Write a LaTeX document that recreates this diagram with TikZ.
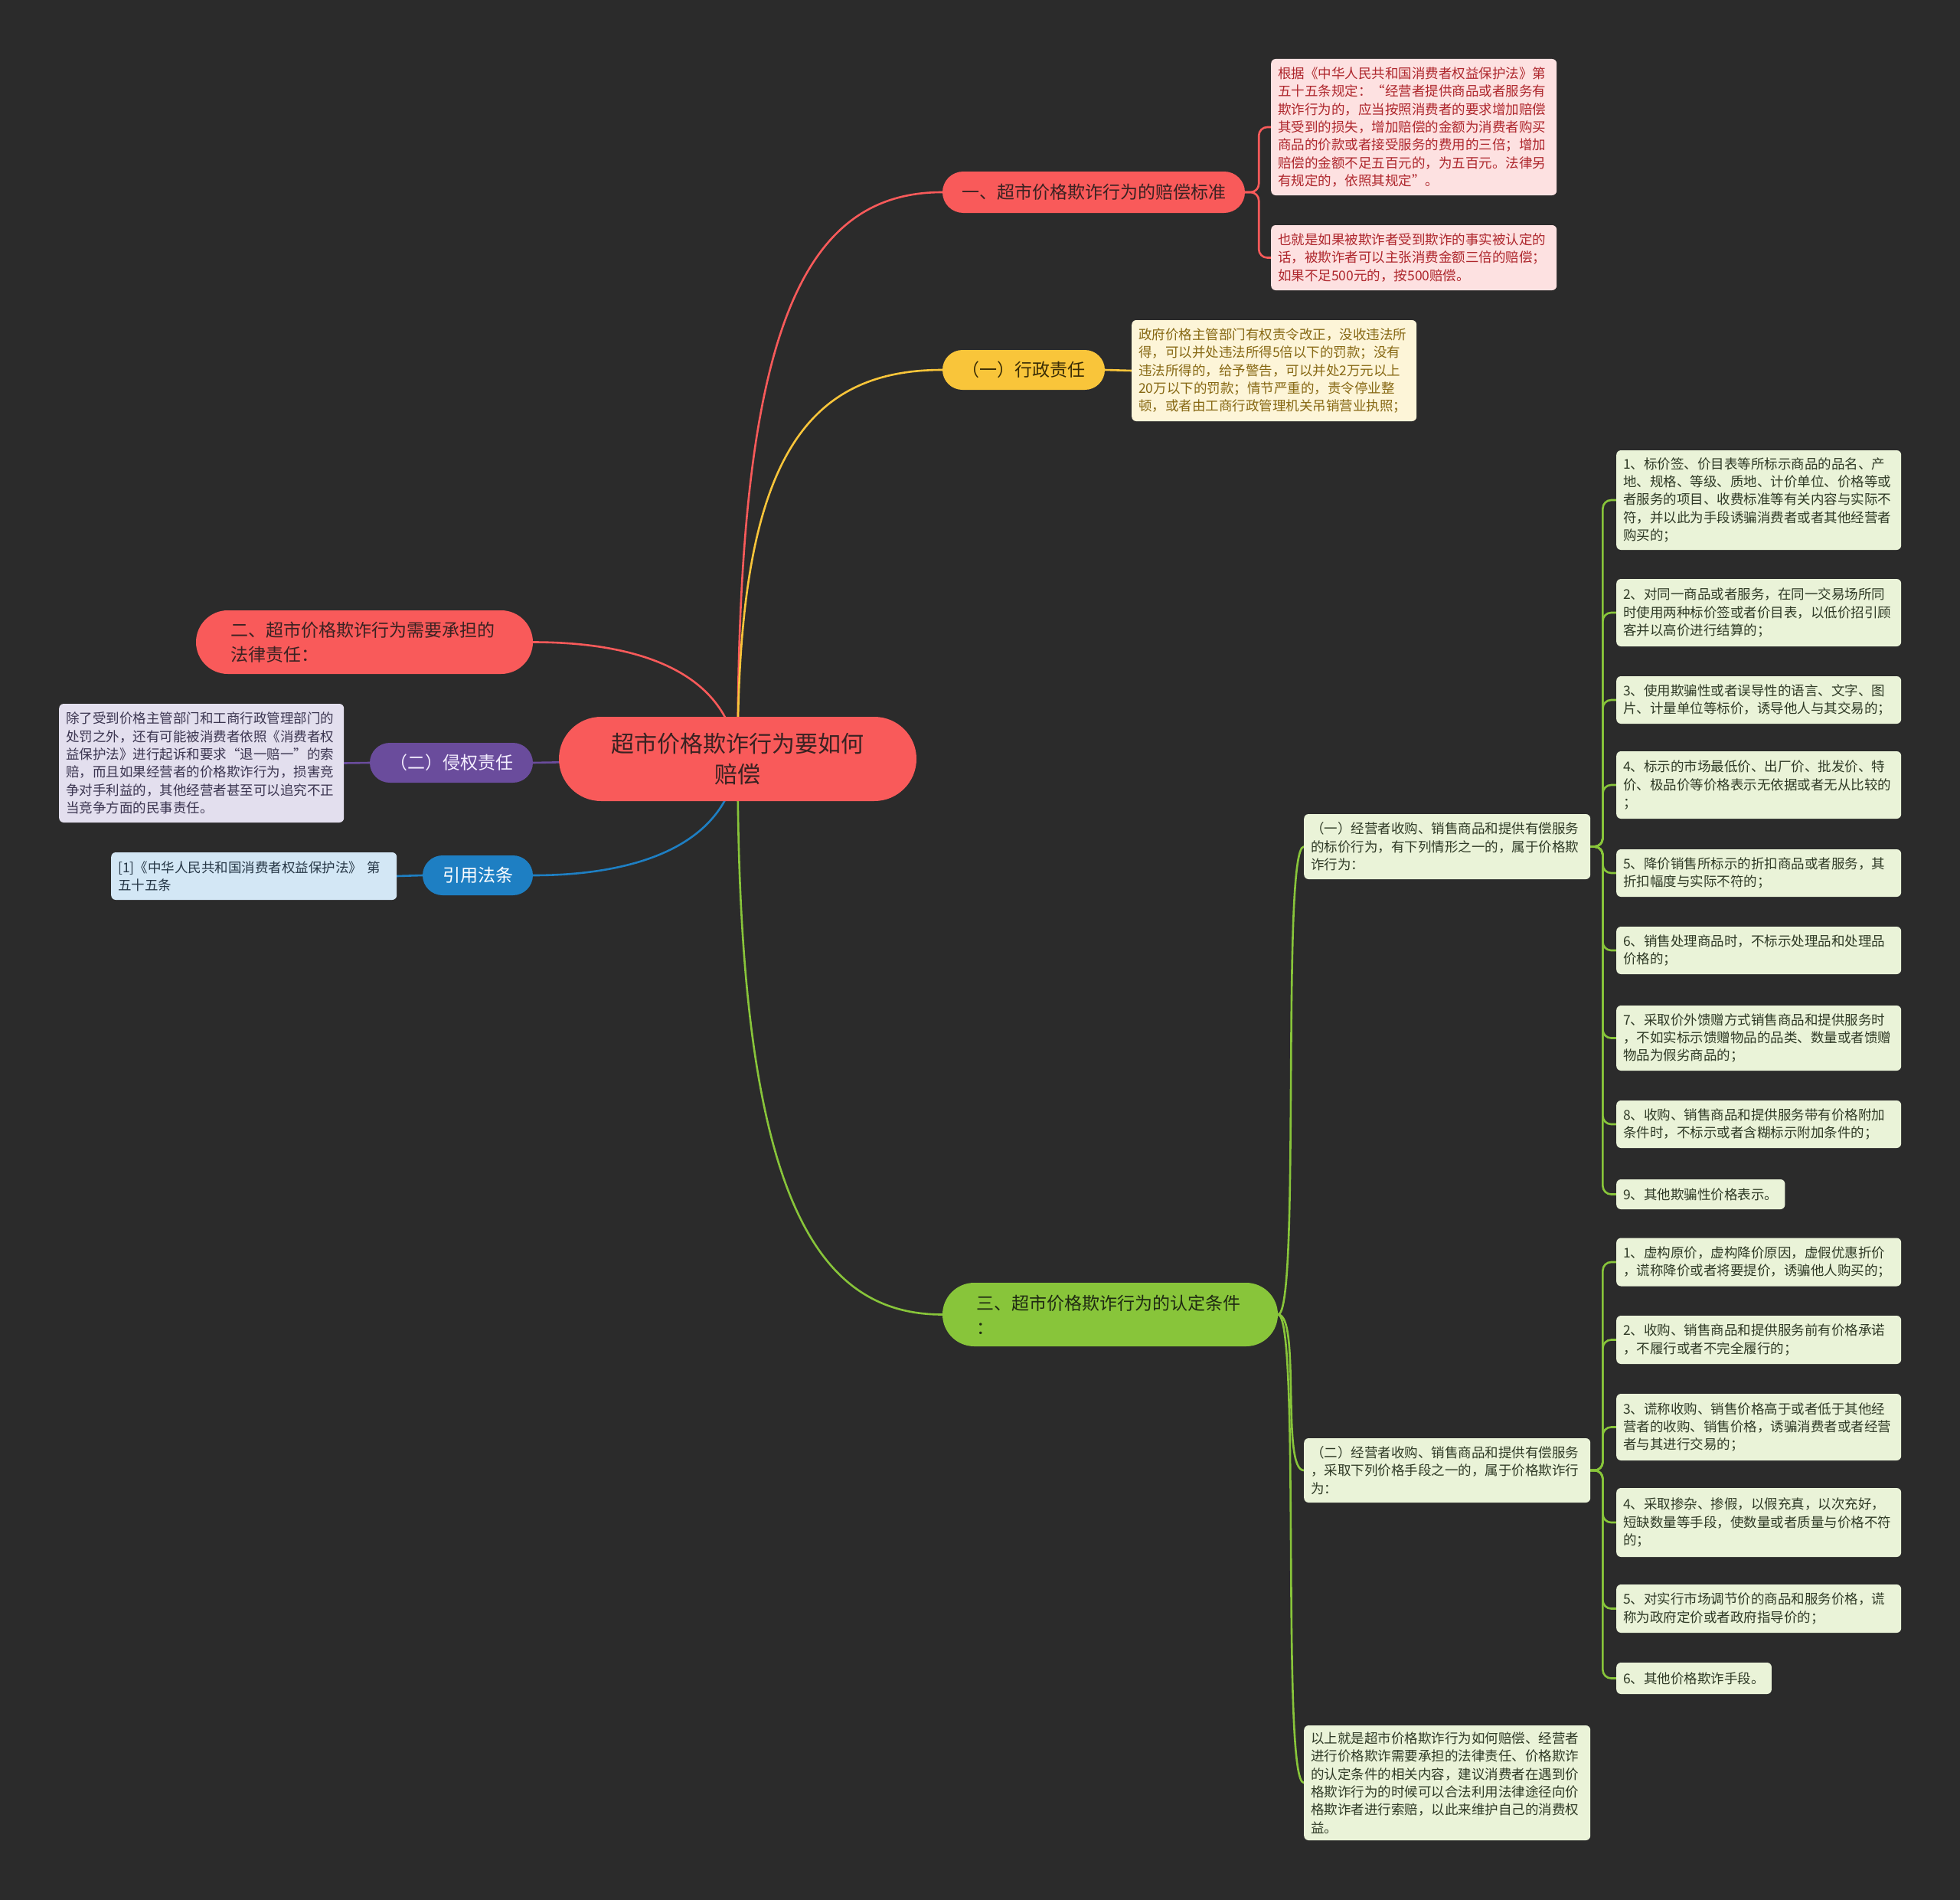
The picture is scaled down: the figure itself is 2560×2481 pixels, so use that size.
\documentclass[tikz,border=0pt]{standalone}
\usepackage{fontspec}
\newfontfamily\cjk{Noto Sans CJK SC}
\usetikzlibrary{backgrounds,calc}
\definecolor{bgc}{HTML}{2B2B2B}
\definecolor{cred}{HTML}{F95A5A}
\definecolor{credtxt}{HTML}{3A2222}
\definecolor{cpink}{HTML}{FDE1E1}
\definecolor{cpinktxt}{HTML}{AE262C}
\definecolor{cyel}{HTML}{F9C53A}
\definecolor{cyeltxt}{HTML}{3A2C05}
\definecolor{ccream}{HTML}{FDF5D8}
\definecolor{ccreamtxt}{HTML}{876813}
\definecolor{cpur}{HTML}{6A4C9C}
\definecolor{cpurtxt}{HTML}{F4EEFF}
\definecolor{clav}{HTML}{E3DFEE}
\definecolor{clavtxt}{HTML}{3B3550}
\definecolor{cblue}{HTML}{1E7FC3}
\definecolor{cbluetxt}{HTML}{FFFFFF}
\definecolor{clblue}{HTML}{D3E7F5}
\definecolor{clbluetxt}{HTML}{263746}
\definecolor{cgreen}{HTML}{88C53A}
\definecolor{cgreentxt}{HTML}{1F2A12}
\definecolor{clgreen}{HTML}{EAF3D8}
\definecolor{clgreentxt}{HTML}{2F3A26}
\tikzset{
  pill/.style={inner sep=0pt, font=\cjk\fontsize{23}{32}\selectfont, minimum height=52},
  box/.style={rounded corners=6, inner xsep=9, inner ysep=4, align=left, anchor=west,
    font=\cjk\fontsize{17.5}{23.3}\selectfont},
  rbox/.style={box, fill=cpink, text=cpinktxt, text width=355},
  ybox/.style={box, fill=ccream, text=ccreamtxt, text width=354},
  lbox/.style={box, fill=clav, text=clavtxt, text width=354},
  bbox/.style={box, fill=clblue, text=clbluetxt, text width=355},
  gbox/.style={box, fill=clgreen, text=clgreentxt, text width=354},
  gboxn/.style={box, fill=clgreen, text=clgreentxt},
  conn/.style={line width=2.6, line cap=round},
  elbow/.style={conn, rounded corners=11},
}
\begin{document}
\begin{tikzpicture}[x=1pt,y=-1pt]
\path[use as bounding box] (0,0) rectangle (2560,2481);

% central
\node[inner sep=0pt, fill=cred, text=credtxt, minimum width=467, minimum height=110,
  rounded corners=55, font=\cjk\fontsize{30}{40}\selectfont, align=center] (ctr) at (963.5,991)
  {超市价格欺诈行为要如何\\赔偿};

% branch 1
\node[pill, fill=cred, text=credtxt, minimum width=395, minimum height=54, rounded corners=27] (b1) at (1428.5,251)
  {一、超市价格欺诈行为的赔偿标准};
\node[rbox, minimum height=178] (p1) at (1660,166)
  {根据《中华人民共和国消费者权益保护法》第\\五十五条规定：“经营者提供商品或者服务有\\欺诈行为的，应当按照消费者的要求增加赔偿\\其受到的损失，增加赔偿的金额为消费者购买\\商品的价款或者接受服务的费用的三倍；增加\\赔偿的金额不足五百元的，为五百元。法律另\\有规定的，依照其规定”。};
\node[rbox, minimum height=85] (p2) at (1660,336.5)
  {也就是如果被欺诈者受到欺诈的事实被认定的\\话，被欺诈者可以主张消费金额三倍的赔偿；\\如果不足500元的，按500赔偿。};

% branch 2
\node[pill, fill=cyel, text=cyeltxt, minimum width=212, rounded corners=26] (b2) at (1337,483)
  {（一）行政责任};
\node[ybox, minimum height=132] (y1) at (1478,484)
  {政府价格主管部门有权责令改正，没收违法所\\得，可以并处违法所得5倍以下的罚款；没有\\违法所得的，给予警告，可以并处2万元以上\\20万以下的罚款；情节严重的，责令停业整\\顿，或者由工商行政管理机关吊销营业执照；};

% branch 3 (left)
\node[pill, fill=cred, text=credtxt, minimum width=440, minimum height=83, rounded corners=41.5,
  text width=350, align=left] (b3) at (476,838.5)
  {二、超市价格欺诈行为需要承担的\\法律责任：};

% branch 4 (left)
\node[pill, fill=cpur, text=cpurtxt, minimum width=213, rounded corners=26] (b4) at (589.5,996)
  {（二）侵权责任};
\node[lbox, minimum height=155] (l1) at (77,996.5)
  {除了受到价格主管部门和工商行政管理部门的\\处罚之外，还有可能被消费者依照《消费者权\\益保护法》进行起诉和要求“退一赔一”的索\\赔，而且如果经营者的价格欺诈行为，损害竞\\争对手利益的，其他经营者甚至可以追究不正\\当竞争方面的民事责任。};

% branch 5 (left)
\node[pill, fill=cblue, text=cbluetxt, minimum width=144, rounded corners=26] (b5) at (624,1143)
  {引用法条};
\node[bbox, minimum height=62] (q1) at (145,1144)
  {[1]《中华人民共和国消费者权益保护法》 第\\五十五条};

% branch 6
\node[pill, fill=cgreen, text=cgreentxt, minimum width=438, minimum height=83, rounded corners=41.5,
  text width=350, align=left] (b6) at (1450,1716.5)
  {三、超市价格欺诈行为的认定条件\\：};

\node[gbox, text width=356, minimum height=85] (ga) at (1703,1105.5)
  {（一）经营者收购、销售商品和提供有偿服务\\的标价行为，有下列情形之一的，属于价格欺\\诈行为：};
\node[gbox, text width=356, minimum height=84] (gb) at (1703,1920)
  {（二）经营者收购、销售商品和提供有偿服务\\，采取下列价格手段之一的，属于价格欺诈行\\为：};
\node[gbox, text width=356, minimum height=150] (gc) at (1703,2328)
  {以上就是超市价格欺诈行为如何赔偿、经营者\\进行价格欺诈需要承担的法律责任、价格欺诈\\的认定条件的相关内容，建议消费者在遇到价\\格欺诈行为的时候可以合法利用法律途径向价\\格欺诈者进行索赔，以此来维护自己的消费权\\益。};

% A children
\node[gbox, minimum height=130] (a1) at (2111,653)
  {1、标价签、价目表等所标示商品的品名、产\\地、规格、等级、质地、计价单位、价格等或\\者服务的项目、收费标准等有关内容与实际不\\符，并以此为手段诱骗消费者或者其他经营者\\购买的；};
\node[gbox, minimum height=88] (a2) at (2111,800)
  {2、对同一商品或者服务，在同一交易场所同\\时使用两种标价签或者价目表，以低价招引顾\\客并以高价进行结算的；};
\node[gbox, minimum height=62] (a3) at (2111,914)
  {3、使用欺骗性或者误导性的语言、文字、图\\片、计量单位等标价，诱导他人与其交易的；};
\node[gbox, minimum height=88] (a4) at (2111,1025)
  {4、标示的市场最低价、出厂价、批发价、特\\价、极品价等价格表示无依据或者无从比较的\\；};
\node[gbox, minimum height=62] (a5) at (2111,1140)
  {5、降价销售所标示的折扣商品或者服务，其\\折扣幅度与实际不符的；};
\node[gbox, minimum height=62] (a6) at (2111,1241)
  {6、销售处理商品时，不标示处理品和处理品\\价格的；};
\node[gbox, minimum height=85] (a7) at (2111,1355.5)
  {7、采取价外馈赠方式销售商品和提供服务时\\，不如实标示馈赠物品的品类、数量或者馈赠\\物品为假劣商品的；};
\node[gbox, minimum height=62] (a8) at (2111,1468)
  {8、收购、销售商品和提供服务带有价格附加\\条件时，不标示或者含糊标示附加条件的；};
\node[gboxn, minimum height=39] (a9) at (2111,1559.5)
  {9、其他欺骗性价格表示。};

% B children
\node[gbox, minimum height=63] (c1) at (2111,1648)
  {1、虚构原价，虚构降价原因，虚假优惠折价\\，谎称降价或者将要提价，诱骗他人购买的；};
\node[gbox, minimum height=63] (c2) at (2111,1749.5)
  {2、收购、销售商品和提供服务前有价格承诺\\，不履行或者不完全履行的；};
\node[gbox, minimum height=87] (c3) at (2111,1863.5)
  {3、谎称收购、销售价格高于或者低于其他经\\营者的收购、销售价格，诱骗消费者或者经营\\者与其进行交易的；};
\node[gbox, minimum height=90] (c4) at (2111,1988)
  {4、采取掺杂、掺假，以假充真，以次充好，\\短缺数量等手段，使数量或者质量与价格不符\\的；};
\node[gbox, minimum height=63] (c5) at (2111,2100.5)
  {5、对实行市场调节价的商品和服务价格，谎\\称为政府定价或者政府指导价的；};
\node[gboxn, minimum height=41] (c6) at (2111,2191.5)
  {6、其他价格欺诈手段。};

\begin{scope}[on background layer]
\fill[bgc] (0,0) rectangle (2560,2481);
% main branches
\draw[conn, draw=cred] (ctr.center) .. controls (963,450) and (1040,251) .. (b1.west);
\draw[conn, draw=cyel] (ctr.center) .. controls (963,620) and (1040,483) .. (b2.west);
\draw[conn, draw=cred] (ctr.center) .. controls (950,870) and (820,838.5) .. (b3.east);
\draw[conn, draw=cpur] (ctr.center) -- (b4.east);
\draw[conn, draw=cblue] (ctr.center) .. controls (950,1110) and (820,1143) .. (b5.east);
\draw[conn, draw=cgreen] (ctr.center) .. controls (963,1550) and (1060,1716.5) .. (b6.west);
% sub connectors
\foreach \c in {p1,p2} \draw[elbow, draw=cred] (b1.east) -- ++(18,0) |- (\c.west);
\draw[conn, draw=cyel] (b2.east) -- (y1.west);
\draw[conn, draw=cpur] (b4.west) -- (l1.east);
\draw[conn, draw=cblue] (b5.west) -- (q1.east);
\foreach \c in {ga,gb,gc} \draw[conn, draw=cgreen] (b6.east) .. controls +(30,0) and +(-30,0) .. (\c.west);
\foreach \c in {a1,a2,a3,a4,a5,a6,a7,a8,a9} \draw[elbow, draw=cgreen] (ga.east) -- ++(16,0) |- (\c.west);
\foreach \c in {c1,c2,c3,c4,c5,c6} \draw[elbow, draw=cgreen] (gb.east) -- ++(16,0) |- (\c.west);
\end{scope}
\end{tikzpicture}
\end{document}
